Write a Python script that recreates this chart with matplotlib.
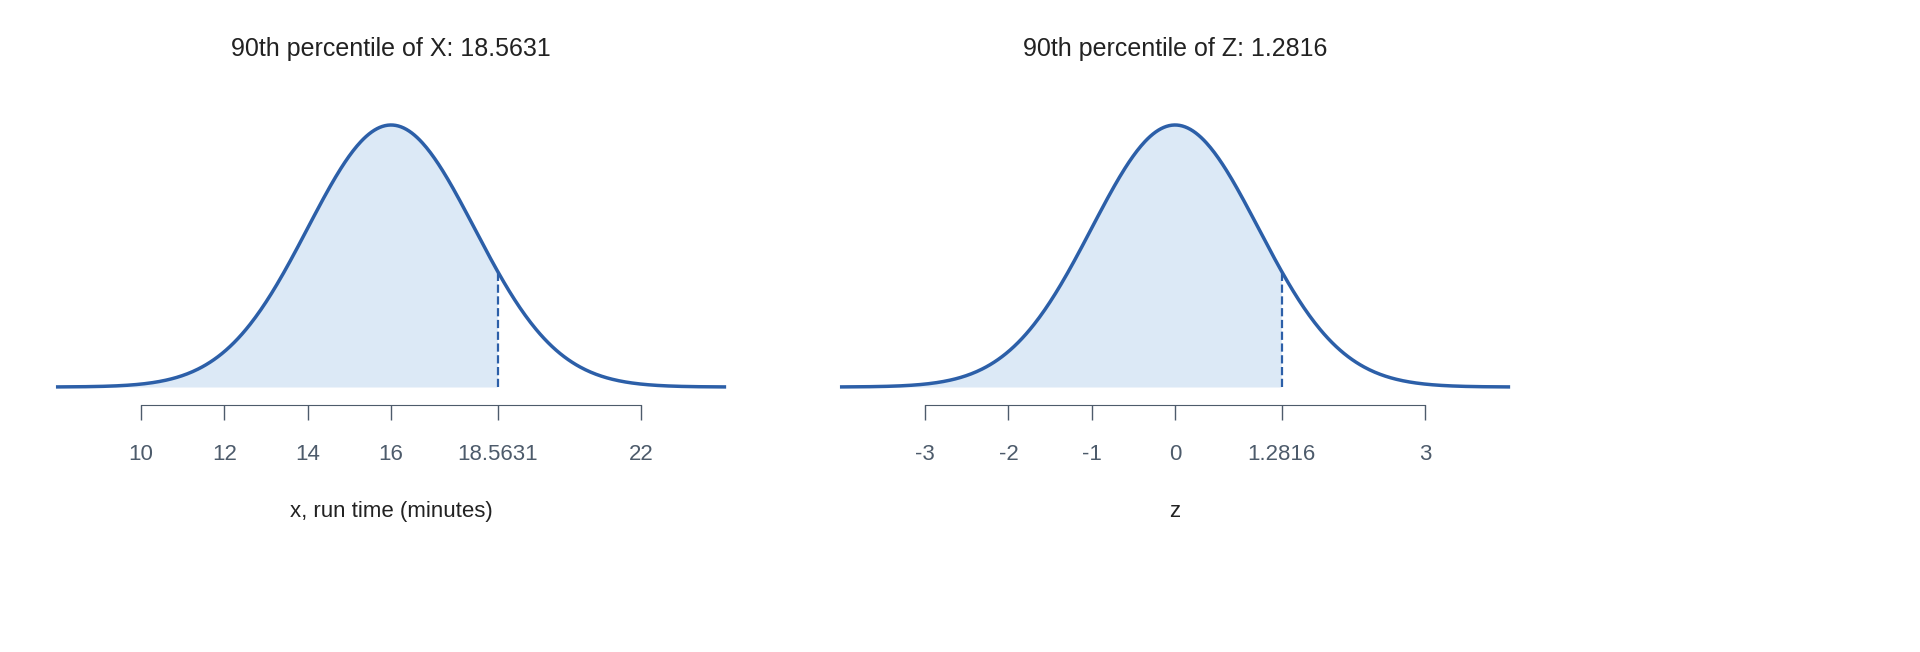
import numpy as np
import matplotlib.pyplot as plt

plt.rcParams['font.family'] = ['Liberation Sans', 'DejaVu Sans']

mean_x, sd_x = 16, 2
q_x = 18.5631
q_z = 1.2816
ticks_x = [10, 12, 14, 16, 18.5631, 22]
ticklabels_x = ['10', '12', '14', '16', '18.5631', '22']
ticks_z = [-3, -2, -1, 0, 1.2816, 3]
ticklabels_z = ['-3', '-2', '-1', '0', '1.2816', '3']

LINE = '#2c5fa8'
FILL = '#dce9f6'
TICK = '#4d5b6b'

W, H = 1920, 652
fig = plt.figure(figsize=(19.2, 6.52), dpi=100)


def panel(left_px, mu, sd, q, ticks, labels, title, xlabel):
    ax = fig.add_axes([left_px / W, (H - 387) / H, 666.7 / W, 262 / H])
    x = np.linspace(mu - 4 * sd, mu + 4 * sd, 500)
    y = np.exp(-0.5 * ((x - mu) / sd) ** 2) / (sd * np.sqrt(2 * np.pi))
    peak = y.max()
    m = x <= q
    ax.fill_between(x[m], 0, y[m], color=FILL, lw=0)
    ax.plot(x, y, color=LINE, lw=2.5, clip_on=False)
    yq = np.exp(-0.5 * ((q - mu) / sd) ** 2) / (sd * np.sqrt(2 * np.pi))
    ax.plot([q, q], [0, yq], color=LINE, lw=1.6, ls='--')
    ax.set_xlim(mu - 4 * sd, mu + 4 * sd)
    ax.set_ylim(0, peak)
    for s in ['top', 'left', 'right']:
        ax.spines[s].set_visible(False)
    ax.spines['bottom'].set_position(('outward', 13))
    ax.spines['bottom'].set_bounds(ticks[0], ticks[-1])
    ax.spines['bottom'].set_color(TICK)
    ax.set_yticks([])
    ax.set_xticks(ticks)
    ax.set_xticklabels(labels)
    ax.tick_params(axis='x', length=11, width=1, color=TICK, labelcolor=TICK,
                   labelsize=16, pad=17)
    ax.set_xlabel(xlabel, fontsize=16, labelpad=26, color='#222222')
    ax.set_title(title, fontsize=18, pad=50, color='#222222')
    ax.patch.set_visible(False)


panel(57.7, mean_x, sd_x, q_x, ticks_x, ticklabels_x,
      '90th percentile of X: 18.5631', 'x, run time (minutes)')
panel(841.7, 0, 1, q_z, ticks_z, ticklabels_z,
      '90th percentile of Z: 1.2816', 'z')

fig.savefig('out.png', dpi=100)
